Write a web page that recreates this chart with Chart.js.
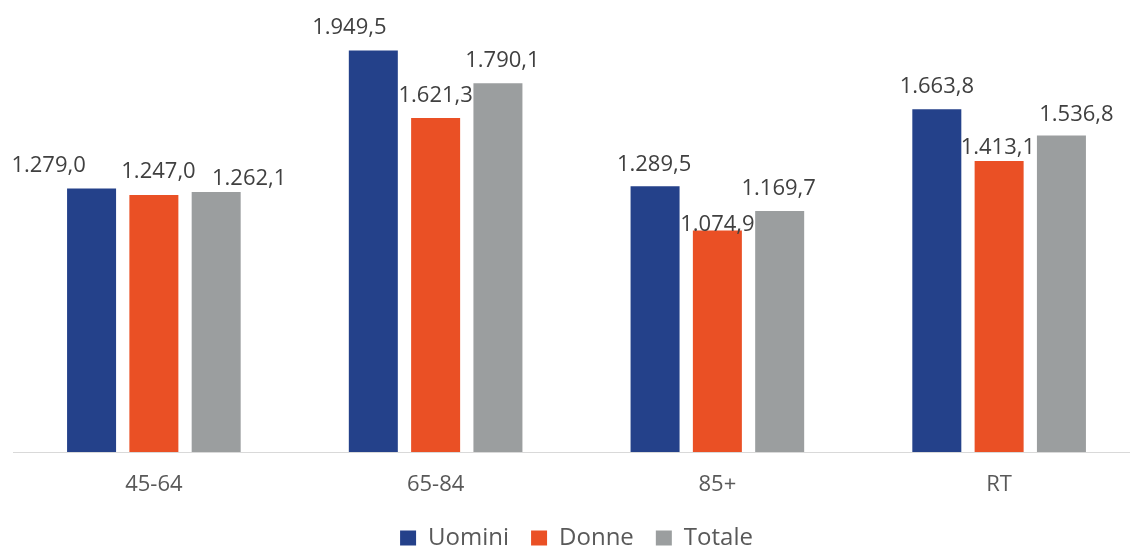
<!DOCTYPE html>
<html>
<head>
<meta charset="utf-8">
<script src="https://cdn.jsdelivr.net/npm/chart.js@4.4.1/dist/chart.umd.min.js"></script>
<style>
  html, body { margin: 0; padding: 0; background: #ffffff; overflow: hidden; }
  canvas { display: block; }
</style>
</head>
<body>
<canvas id="c" width="1140" height="560"></canvas>
<script>
const categories = ['45-64', '65-84', '85+', 'RT'];
const seriesNames = ['Uomini', 'Donne', 'Totale'];
const uomini = [1279.0, 1949.5, 1289.5, 1663.8];
const donne  = [1247.0, 1621.3, 1074.9, 1413.1];
const totale = [1262.1, 1790.1, 1169.7, 1536.8];

// label placement nudges (pixels) per series, per category: [dx, dy from bar top to text centre]
const labelNudges = [
  [[-43, -24.3], [-24, -24.6], [-1, -23], [0, -24]],
  [[4.6, -25.4], [0, -24], [0, -7], [-1.3, -15.2]],
  [[33, -15.3], [4.5, -23.6], [-1, -24.3], [15, -22.4]]
];

function fmtIt(v) {
  const s = v.toFixed(1);
  const parts = s.split('.');
  const intPart = parts[0].replace(/\B(?=(\d{3})+(?!\d))/g, '.');
  return intPart + ',' + parts[1];
}

const valueLabels = {
  id: 'valueLabels',
  afterDatasetsDraw(chart) {
    const ctx = chart.ctx;
    ctx.save();
    ctx.font = '22px "Open Sans"';
    ctx.fillStyle = '#404040';
    ctx.textAlign = 'center';
    ctx.textBaseline = 'alphabetic';
    const capHalf = 22 * 0.714 / 2;
    chart.data.datasets.forEach((ds, di) => {
      const meta = chart.getDatasetMeta(di);
      meta.data.forEach((el, i) => {
        const n = labelNudges[di][i];
        ctx.fillText(fmtIt(ds.data[i]), el.x + n[0], el.y + n[1] + capHalf);
      });
    });
    ctx.restore();
  }
};

Chart.defaults.font.family = '"Open Sans", sans-serif';

new Chart(document.getElementById('c'), {
  type: 'bar',
  data: {
    labels: categories,
    datasets: [
      { label: seriesNames[0], data: uomini, backgroundColor: '#24418A' },
      { label: seriesNames[1], data: donne,  backgroundColor: '#EA5025' },
      { label: seriesNames[2], data: totale, backgroundColor: '#9B9E9F' }
    ]
  },
  options: {
    responsive: false,
    animation: false,
    devicePixelRatio: 1,
    categoryPercentage: 0.6634,
    barPercentage: 0.7865,
    layout: { padding: { left: 13, right: 0, top: 40, bottom: 0 } },
    scales: {
      x: {
        grid: { display: false, drawTicks: false },
        border: { display: true, color: '#D9D9D9', width: 1 },
        ticks: { color: '#595959', font: { size: 22 }, padding: 20 },
        afterFit(scale) { scale.height = 52; }
      },
      y: {
        display: false,
        min: 0,
        max: 2000
      }
    },
    plugins: {
      legend: {
        position: 'bottom',
        labels: {
          boxWidth: 16,
          boxHeight: 15,
          padding: 22,
          color: '#595959',
          font: { size: 24 }
        }
      },
      tooltip: { enabled: false }
    }
  },
  plugins: [valueLabels]
});
</script>
</body>
</html>
